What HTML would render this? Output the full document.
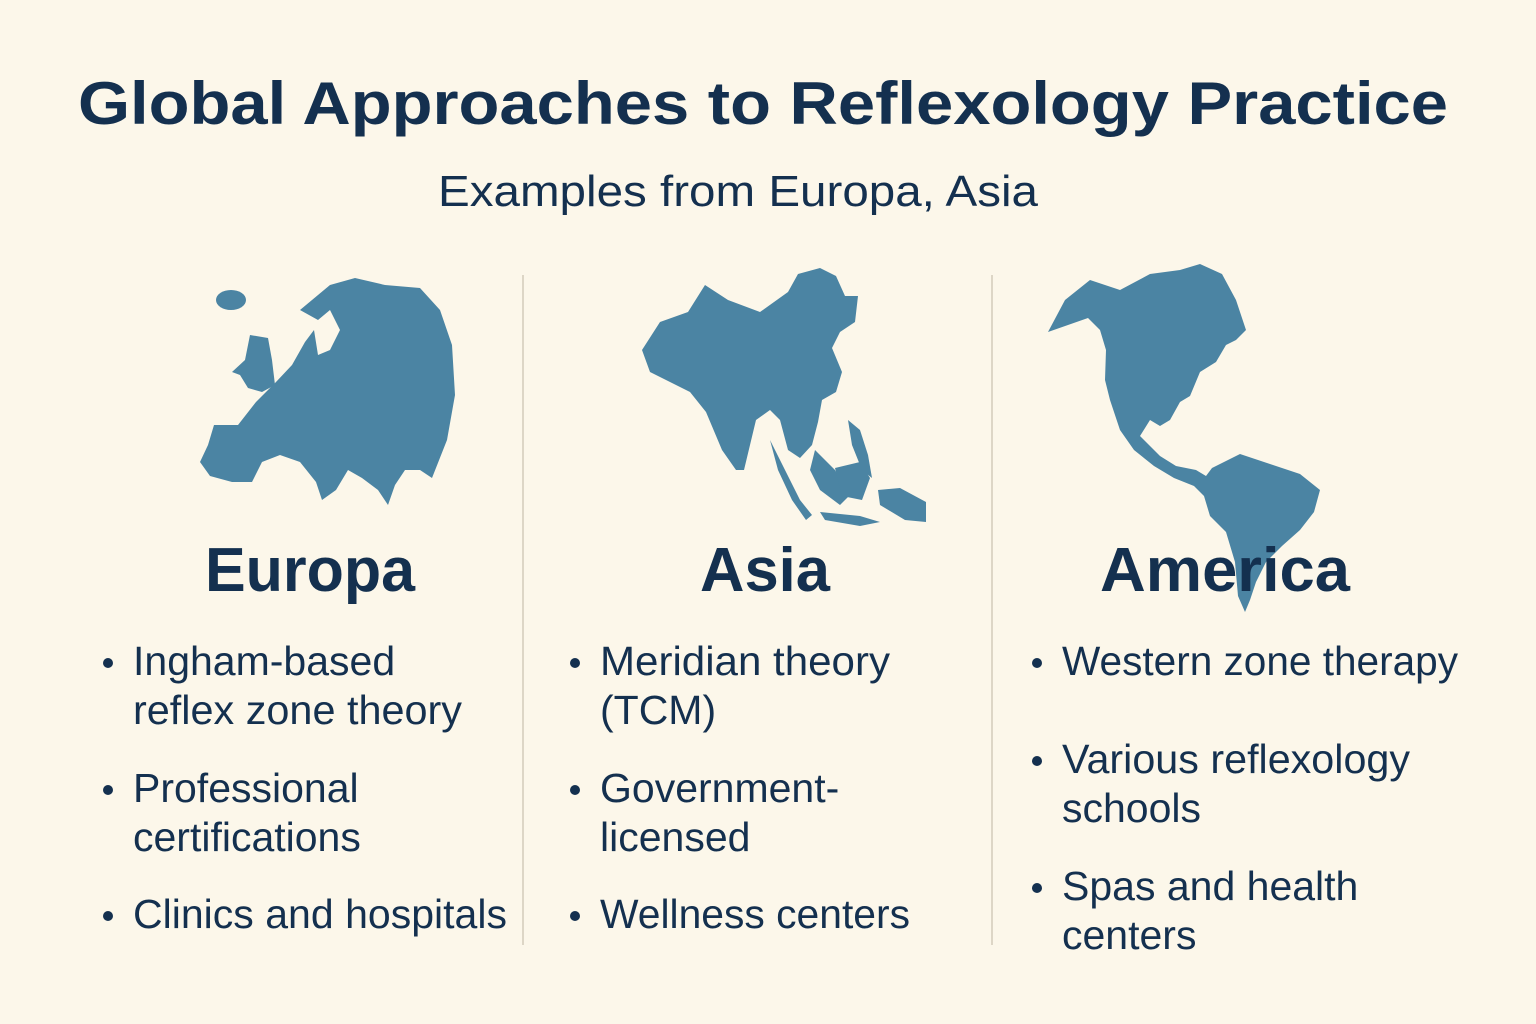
<!DOCTYPE html>
<html><head><meta charset="utf-8"><style>
html,body{margin:0;padding:0;background:#fcf7ea;}
svg{display:block;}
text{font-family:"Liberation Sans",sans-serif;fill:#14304f;}
</style></head><body>
<svg width="1536" height="1024" viewBox="0 0 1536 1024" xmlns="http://www.w3.org/2000/svg">
<rect width="1536" height="1024" fill="#fcf7ea"/>
<text x="78" y="124" font-size="60" font-weight="bold" textLength="1370" lengthAdjust="spacingAndGlyphs">Global Approaches to Reflexology Practice</text>
<text x="438" y="206" font-size="44" textLength="600" lengthAdjust="spacingAndGlyphs" fill="#1d3a5c">Examples from Europa, Asia</text>
<line x1="523" y1="275" x2="523" y2="945" stroke="#ddd6c6" stroke-width="2"/>
<line x1="992" y1="275" x2="992" y2="945" stroke="#ddd6c6" stroke-width="2"/>
<g fill="#4b84a3">
<ellipse cx="231" cy="300" rx="15" ry="10"/>
<polygon points="250,335 268,338 272,360 275,385 262,392 248,388 240,375 232,372 245,360"/>
<polygon points="300,310 330,285 355,278 385,285 420,288 440,310 452,345 455,395 447,440 432,478 420,470 405,470 395,485 388,505 378,490 362,478 348,470 336,490 322,500 316,482 300,462 280,455 262,462 252,482 232,482 210,476 200,462 208,445 214,425 238,425 256,402 276,382 292,365 305,342 314,330 318,355 330,350 340,330 330,310 318,320"/>
<polygon points="642,350 660,322 688,312 705,285 728,300 760,312 788,292 798,274 820,268 836,276 845,296 858,296 855,322 840,332 832,348 842,372 836,392 822,400 818,422 812,445 800,458 788,450 780,420 770,410 756,420 744,470 736,470 722,450 706,412 690,392 670,382 650,372"/>
<polygon points="770,440 785,470 800,500 812,515 806,520 792,500 778,470"/>
<polygon points="815,450 835,470 850,495 840,505 820,490 810,470"/>
<polygon points="835,468 860,462 870,478 862,500 842,496"/>
<polygon points="848,420 860,430 868,455 872,478 862,470 852,445"/>
<polygon points="878,490 900,488 926,502 926,522 905,520 880,505"/>
<polygon points="820,512 860,516 880,522 860,526 825,520"/>
<polygon points="1048,332 1065,300 1090,280 1120,290 1150,274 1180,270 1200,264 1222,274 1236,300 1246,330 1236,340 1226,345 1216,362 1200,372 1190,396 1180,402 1170,420 1160,426 1150,420 1140,436 1160,456 1176,466 1196,470 1206,476 1212,468 1240,454 1270,464 1300,474 1320,490 1314,512 1300,530 1282,546 1266,562 1256,582 1250,600 1245,612 1238,596 1235,562 1226,532 1210,516 1204,496 1194,486 1174,478 1154,466 1134,450 1120,430 1110,400 1105,380 1106,350 1100,330 1088,318"/>
</g>
<g font-weight="bold" font-size="62">
<text x="205" y="591" textLength="210" lengthAdjust="spacingAndGlyphs">Europa</text>
<text x="700" y="591" textLength="130" lengthAdjust="spacingAndGlyphs">Asia</text>
<text x="1100" y="591" textLength="250" lengthAdjust="spacingAndGlyphs">America</text>
</g>
<g font-size="41">
<circle cx="108" cy="663" r="5" fill="#14304f"/>
<text x="133" y="675">Ingham-based</text>
<text x="133" y="724" textLength="329" lengthAdjust="spacingAndGlyphs">reflex zone theory</text>
<circle cx="108" cy="790" r="5" fill="#14304f"/>
<text x="133" y="802">Professional</text>
<text x="133" y="851">certifications</text>
<circle cx="108" cy="916" r="5" fill="#14304f"/>
<text x="133" y="928" textLength="374" lengthAdjust="spacingAndGlyphs">Clinics and hospitals</text>

<circle cx="575" cy="663" r="5" fill="#14304f"/>
<text x="600" y="675" textLength="290" lengthAdjust="spacingAndGlyphs">Meridian theory</text>
<text x="600" y="724">(TCM)</text>
<circle cx="575" cy="790" r="5" fill="#14304f"/>
<text x="600" y="802">Government-</text>
<text x="600" y="851">licensed</text>
<circle cx="575" cy="916" r="5" fill="#14304f"/>
<text x="600" y="928" textLength="310" lengthAdjust="spacingAndGlyphs">Wellness centers</text>

<circle cx="1037" cy="663" r="5" fill="#14304f"/>
<text x="1062" y="675" textLength="396" lengthAdjust="spacingAndGlyphs">Western zone therapy</text>
<circle cx="1037" cy="761" r="5" fill="#14304f"/>
<text x="1062" y="773" textLength="348" lengthAdjust="spacingAndGlyphs">Various reflexology</text>
<text x="1062" y="822">schools</text>
<circle cx="1037" cy="888" r="5" fill="#14304f"/>
<text x="1062" y="900">Spas and health</text>
<text x="1062" y="949">centers</text>
</g>
</svg>
</body></html>
